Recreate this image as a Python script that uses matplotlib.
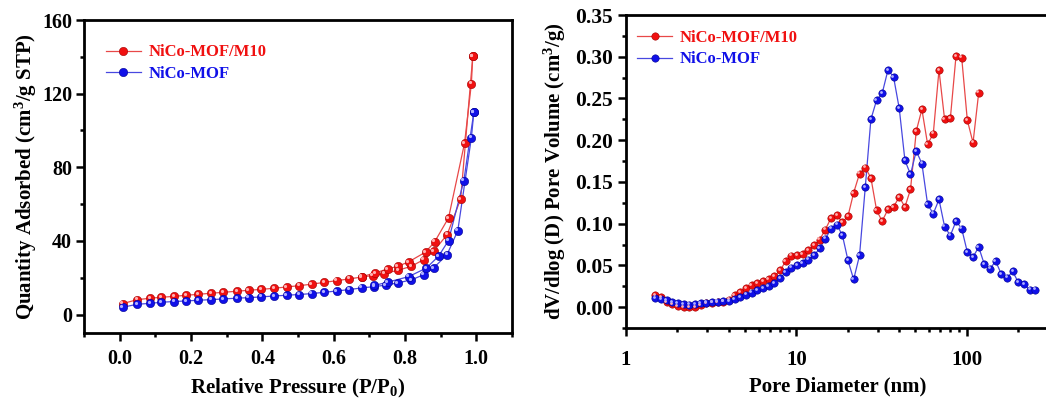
import matplotlib
matplotlib.use('Agg')
import numpy as np
import matplotlib.pyplot as plt
from matplotlib.ticker import MultipleLocator, LogLocator, NullFormatter, FixedLocator, FixedFormatter
from matplotlib.transforms import offset_copy
from matplotlib.lines import Line2D

plt.rcParams['font.family'] = ['Liberation Serif', 'DejaVu Serif']
plt.rcParams['font.weight'] = 'bold'
plt.rcParams['mathtext.fontset'] = 'custom'
plt.rcParams['mathtext.rm'] = 'Liberation Serif:bold'
plt.rcParams['mathtext.it'] = 'Liberation Serif:bold:italic'
plt.rcParams['mathtext.bf'] = 'Liberation Serif:bold'

# ---------------- data: N2 isotherms ----------------
label_m10 = 'NiCo-MOF/M10'
label_mof = 'NiCo-MOF'

m10_ads_p = [0.009, 0.049, 0.086, 0.117, 0.153, 0.186, 0.221, 0.256, 0.291, 0.329,
             0.362, 0.397, 0.433, 0.468, 0.503, 0.538, 0.573, 0.608, 0.644, 0.679,
             0.709, 0.742, 0.781, 0.817, 0.853, 0.880, 0.918, 0.956, 0.990]
m10_ads_q = [6.0, 8.1, 8.9, 9.4, 9.9, 10.5, 11.0, 11.6, 12.1, 12.7,
             13.2, 13.7, 14.3, 15.0, 15.7, 16.5, 17.5, 18.4, 19.4, 20.4,
             21.2, 22.3, 24.1, 26.2, 29.9, 34.4, 43.4, 62.8, 140.3]
m10_des_p = [0.986, 0.967, 0.922, 0.883, 0.858, 0.810, 0.779, 0.751, 0.716, 0.679]
m10_des_q = [125.3, 93.2, 52.5, 39.5, 34.0, 28.6, 26.2, 24.8, 22.6, 20.6]

mof_ads_p = [0.009, 0.049, 0.086, 0.117, 0.153, 0.186, 0.221, 0.256, 0.291, 0.329,
             0.362, 0.397, 0.433, 0.468, 0.503, 0.538, 0.573, 0.608, 0.644, 0.679,
             0.714, 0.746, 0.779, 0.817, 0.853, 0.880, 0.918, 0.948, 0.986, 0.993]
mof_ads_q = [4.0, 5.6, 6.1, 6.7, 7.1, 7.4, 7.8, 8.1, 8.5, 8.9,
             9.2, 9.6, 10.1, 10.5, 10.9, 11.4, 12.1, 12.8, 13.6, 14.5,
             15.2, 16.0, 17.2, 18.8, 21.7, 25.3, 32.6, 45.6, 96.0, 110.0]
mof_des_p = [0.965, 0.922, 0.894, 0.860, 0.810, 0.751, 0.714]
mof_des_q = [72.8, 40.2, 31.7, 25.3, 20.6, 17.6, 15.8]

# ---------------- data: pore size distribution ----------------
pore_d = [1.48, 1.60, 1.73, 1.87, 2.01, 2.18, 2.35, 2.54, 2.74, 2.95,
          3.19, 3.45, 3.72, 4.02, 4.34, 4.68, 5.06, 5.46, 5.90, 6.37,
          6.88, 7.42, 8.02, 8.66, 9.35, 10.09, 10.9, 11.77, 12.7, 13.72,
          14.81, 16.0, 17.27, 18.65, 20.1, 21.7, 23.5, 25.4, 27.4, 29.6,
          31.9, 34.5, 37.2, 40.2, 43.4, 46.8, 50.6, 54.6, 59.0, 63.7,
          68.8, 74.2, 80.2, 86.6, 93.5, 100.9, 109.0, 117.7, 127.0, 137.2,
          148.0, 160.0, 172.7, 186.5, 201.0, 217.4, 234.8, 253.5]
mof_dv = [0.011, 0.010, 0.008, 0.006, 0.0045, 0.0032, 0.003, 0.0035, 0.0045, 0.0055,
          0.006, 0.0065, 0.0068, 0.0076, 0.0095, 0.0120, 0.0149, 0.0173, 0.0200, 0.0228,
          0.0248, 0.0292, 0.0348, 0.0420, 0.0472, 0.0500, 0.0528, 0.0568, 0.0620, 0.0704,
          0.0820, 0.0940, 0.0990, 0.0860, 0.0560, 0.0332, 0.0620, 0.1440, 0.2250, 0.2480,
          0.2560, 0.2840, 0.2760, 0.2380, 0.1760, 0.1590, 0.1870, 0.1720, 0.1230, 0.1120,
          0.1290, 0.0965, 0.0857, 0.1030, 0.0940, 0.0660, 0.0600, 0.0720, 0.0512, 0.0460,
          0.0552, 0.0392, 0.0353, 0.0428, 0.0296, 0.0272, 0.0209, 0.0209]
m10_dv = [0.014, 0.012, 0.006, 0.0032, 0.0008, 0.0, 0.0, 0.0, 0.002, 0.0048,
          0.0055, 0.006, 0.0065, 0.009, 0.014, 0.018, 0.0228, 0.026, 0.0288, 0.0312,
          0.034, 0.0368, 0.044, 0.0548, 0.0616, 0.062, 0.0632, 0.068, 0.074, 0.081,
          0.093, 0.107, 0.110, 0.102, 0.109, 0.137, 0.160, 0.167, 0.155, 0.116,
          0.103, 0.117, 0.120, 0.132, 0.120, 0.141, 0.211, 0.237, 0.195, 0.208,
          0.284, 0.225, 0.226, 0.301, 0.299, 0.224, 0.197, 0.257]

left_xticks = [0.0, 0.2, 0.4, 0.6, 0.8, 1.0]
left_yticks = [0, 40, 80, 120, 160]
right_yticks = [0.00, 0.05, 0.10, 0.15, 0.20, 0.25, 0.30, 0.35]
right_xticks = [1, 10, 100]

RED = '#f01010'
RED_LINE = '#e84848'
RED_HI = '#ffb0b0'
RED_DARK = '#a00000'
BLUE = '#1010e8'
BLUE_LINE = '#4848e0'
BLUE_HI = '#b0b0ff'
BLUE_DARK = '#000090'

fig = plt.figure(figsize=(10.46, 4.0), dpi=100)
fig.patch.set_facecolor('white')

axL = fig.add_axes([0.0803, 0.1675, 0.4092, 0.7825])
axR = fig.add_axes([0.5985, 0.18, 0.4045, 0.7825])


def balls(ax, x, y, color, line, hi, dark, ms, lw=0.9):
    ax.plot(x, y, '-', color=line, lw=lw, zorder=2)
    ax.plot(x, y, 'o', ms=ms, color=color, mec=dark, mew=0.4, ls='none', zorder=3)
    tr = offset_copy(ax.transData, fig=fig, x=-ms * 0.17, y=ms * 0.17, units='points')
    ax.plot(x, y, 'o', ms=ms * 0.38, color=hi, mec='none', ls='none', transform=tr, zorder=4)


# ---------- left panel ----------
ms_l = 6.0
balls(axL, m10_ads_p, m10_ads_q, RED, RED_LINE, RED_HI, RED_DARK, ms_l)
balls(axL, [m10_ads_p[-1]] + m10_des_p, [m10_ads_q[-1]] + m10_des_q, RED, RED_LINE, RED_HI, RED_DARK, ms_l)
balls(axL, mof_ads_p, mof_ads_q, BLUE, BLUE_LINE, BLUE_HI, BLUE_DARK, ms_l)
balls(axL, [mof_ads_p[-1]] + mof_des_p, [mof_ads_q[-1]] + mof_des_q, BLUE, BLUE_LINE, BLUE_HI, BLUE_DARK, ms_l)

axL.set_xlim(-0.1, 1.1)
axL.set_ylim(-10, 160)
axL.xaxis.set_major_locator(FixedLocator(left_xticks))
axL.xaxis.set_major_formatter(FixedFormatter([f'{v:.1f}' for v in left_xticks]))
axL.xaxis.set_minor_locator(MultipleLocator(0.1))
axL.yaxis.set_major_locator(FixedLocator(left_yticks))
axL.yaxis.set_major_formatter(FixedFormatter([str(v) for v in left_yticks]))
axL.yaxis.set_minor_locator(MultipleLocator(20))
axL.set_xlabel(r'Relative Pressure (P/P$_0$)', fontsize=15, fontweight='bold', labelpad=6)
axL.set_ylabel(r'Quantity Adsorbed (cm$^3$/g STP)', fontsize=15, fontweight='bold', labelpad=2)

# ---------- right panel ----------
ms_r = 5.3
balls(axR, pore_d[:len(m10_dv)], m10_dv, RED, RED_LINE, RED_HI, RED_DARK, ms_r)
balls(axR, pore_d[:len(mof_dv)], mof_dv, BLUE, BLUE_LINE, BLUE_HI, BLUE_DARK, ms_r)
axR.set_xscale('log')
axR.set_xlim(1, 305)
axR.set_ylim(-0.025, 0.35)
axR.xaxis.set_major_locator(FixedLocator(right_xticks))
axR.xaxis.set_major_formatter(FixedFormatter([str(v) for v in right_xticks]))
axR.xaxis.set_minor_locator(LogLocator(base=10, subs=np.arange(2, 10), numticks=20))
axR.xaxis.set_minor_formatter(NullFormatter())
axR.yaxis.set_major_locator(FixedLocator(right_yticks))
axR.yaxis.set_major_formatter(FixedFormatter([f'{v:.2f}' for v in right_yticks]))
axR.yaxis.set_minor_locator(MultipleLocator(0.025))
axR.set_xlabel('Pore Diameter (nm)', fontsize=15, fontweight='bold', labelpad=5)
axR.set_ylabel(r'dV/dlog (D) Pore Volume (cm$^3$/g)', fontsize=15, fontweight='bold', labelpad=5)

for ax in (axL, axR):
    for s in ax.spines.values():
        s.set_linewidth(2.0)
    ax.tick_params(which='both', direction='out', top=False, right=False, width=1.8)
    ax.tick_params(which='major', length=5.5, labelsize=14.5)
    ax.tick_params(which='minor', length=3)
    ax.tick_params(axis='y', which='major', pad=3)

axL.tick_params(axis='x', which='major', pad=6)
axR.tick_params(axis='x', which='major', pad=10, labelsize=15)
axR.tick_params(axis='y', which='major', labelsize=15.5, pad=4)
for ax in (axL, axR):
    for t in ax.get_xticklabels() + ax.get_yticklabels():
        t.set_fontweight('bold')


def legend(ax, anchor, ms):
    handles = [
        Line2D([], [], color=RED_LINE, lw=0.9, marker='o', ms=ms, mfc=RED, mec=RED_DARK, mew=0.4),
        Line2D([], [], color=BLUE_LINE, lw=0.9, marker='o', ms=ms, mfc=BLUE, mec=BLUE_DARK, mew=0.4),
    ]
    leg = ax.legend(handles, [label_m10, label_mof], loc='upper left', bbox_to_anchor=anchor,
                    frameon=False, borderpad=0, borderaxespad=0, handlelength=2.1,
                    handletextpad=0.45, labelspacing=0.32,
                    prop={'family': 'Liberation Serif', 'weight': 'bold', 'size': 12})
    for txt, c in zip(leg.get_texts(), [RED, BLUE]):
        txt.set_color(c)


legend(axL, (0.051, 0.922), ms_l)
legend(axR, (0.026, 0.952), ms_r)

fig.savefig('out.png', dpi=100, facecolor='white')
